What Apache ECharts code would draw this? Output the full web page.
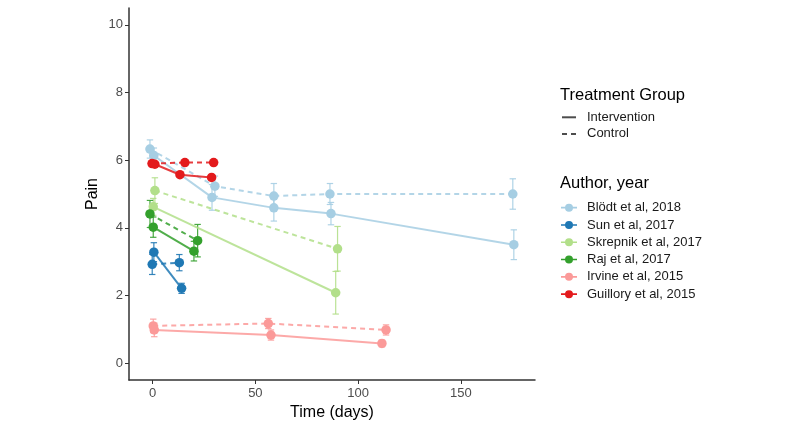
<!DOCTYPE html>
<html>
<head>
<meta charset="utf-8">
<script src="https://cdn.jsdelivr.net/npm/echarts@6/dist/echarts.min.js"></script>
<style>
html,body{margin:0;padding:0;background:#fff;}
#chart{width:800px;height:427px;}
</style>
</head>
<body>
<div id="chart"></div>
<script>
// ---- Data ----
const authors = ["Blödt et al, 2018", "Sun et al, 2017", "Skrepnik et al, 2017", "Raj et al, 2017", "Irvine et al, 2015", "Guillory et al, 2015"];
const authorColors = ["#A6CEE3", "#1F78B4", "#B2DF8A", "#33A02C", "#FB9A99", "#E31A1C"];
const groups = ["Intervention", "Control"];

// Intervention arms
const intDays = [
  [0.6, 28.9, 59.0, 86.8, 175.8],
  [0.6, 14.1],
  [0.3, 89.1],
  [0.3, 20.1],
  [0.8, 57.6, 111.6],
  [1.1, 13.3, 28.7]
];
const intPain = [
  [6.14, 4.90, 4.59, 4.42, 3.50],
  [3.28, 2.21],
  [4.62, 2.08],
  [4.02, 3.31],
  [0.98, 0.83, 0.58],
  [5.88, 5.57, 5.49]
];
const intErr = [
  [0.22, 0.38, 0.39, 0.33, 0.44],
  [0.28, 0.15],
  [0.25, 0.63],
  [0.30, 0.29],
  [0.20, 0.15, 0.10],
  [0.05, 0.05, 0.05]
];
// Control arms
const ctlDays = [
  [-1.3, 30.3, 59.0, 86.3, 175.3],
  [-0.2, 13.0],
  [1.1, 90.0],
  [-1.3, 21.9],
  [0.3, 56.3, 113.6],
  [-0.3, 15.7, 29.7]
];
const ctlPain = [
  [6.33, 5.23, 4.94, 5.00, 5.00],
  [2.92, 2.97],
  [5.10, 3.38],
  [4.41, 3.62],
  [1.10, 1.17, 0.98],
  [5.90, 5.93, 5.93]
];
const ctlErr = [
  [0.27, 0.30, 0.37, 0.31, 0.45],
  [0.30, 0.24],
  [0.38, 0.66],
  [0.40, 0.48],
  [0.20, 0.15, 0.15],
  [0.05, 0.05, 0.05]
];
const xTicks = [0, 50, 100, 150];
const yTicks = [0, 2, 4, 6, 8, 10];

// ---- Build chart ----
const FONT = "Liberation Sans, Arial, Helvetica, sans-serif";
const series = [];

function errSeries(name, color, days, vals, errs) {
  const data = days.map((d, i) => [d, vals[i] - errs[i], vals[i] + errs[i]]);
  return {
    name: name,
    type: 'custom',
    z: 2,
    data: data,
    encode: { x: 0, y: [1, 2] },
    renderItem: function (params, api) {
      const x = api.value(0);
      const lo = api.coord([x, api.value(1)]);
      const hi = api.coord([x, api.value(2)]);
      const w = 3.2;
      const st = { stroke: color, lineWidth: 1.2, opacity: 0.9 };
      return {
        type: 'group',
        children: [
          { type: 'line', shape: { x1: lo[0], y1: lo[1], x2: hi[0], y2: hi[1] }, style: st },
          { type: 'line', shape: { x1: lo[0] - w, y1: lo[1], x2: lo[0] + w, y2: lo[1] }, style: st },
          { type: 'line', shape: { x1: hi[0] - w, y1: hi[1], x2: hi[0] + w, y2: hi[1] }, style: st }
        ]
      };
    }
  };
}

function lineSeries(name, color, days, vals, dashed) {
  return {
    name: name,
    type: 'line',
    z: 3,
    data: days.map((d, i) => [d, vals[i]]),
    symbol: 'circle',
    symbolSize: 9.5,
    showSymbol: true,
    itemStyle: { color: color, opacity: 1 },
    lineStyle: { color: color, width: 2, type: dashed ? [5, 4] : 'solid', opacity: 0.85 },
    emphasis: { disabled: true },
    animation: false
  };
}

authors.forEach((a, k) => {
  series.push(errSeries(a, authorColors[k], ctlDays[k], ctlPain[k], ctlErr[k]));
  series.push(errSeries(a, authorColors[k], intDays[k], intPain[k], intErr[k]));
});
authors.forEach((a, k) => {
  series.push(lineSeries(a, authorColors[k], ctlDays[k], ctlPain[k], true));
  series.push(lineSeries(a, authorColors[k], intDays[k], intPain[k], false));
});
// dummy series for the treatment group legend
groups.forEach(g => series.push({ name: g, type: 'line', data: [], itemStyle: { color: '#4d4d4d' }, lineStyle: { color: '#4d4d4d' } }));

const lineIcon = 'path://M0,0 L14,0 L14,2 L0,2 Z';
const dashIcon = 'path://M0,0 L5,0 L5,2 L0,2 Z M9,0 L14,0 L14,2 L9,2 Z';
const ptIcon = 'path://M0,4.2 L16,4.2 L16,5.8 L0,5.8 Z M12,5 A4,4 0 1,1 4,5 A4,4 0 1,1 12,5 Z';

const option = {
  backgroundColor: '#ffffff',
  animation: false,
  textStyle: { fontFamily: FONT },
  title: [
    { text: 'Treatment Group', left: 560, top: 87, padding: 0, textStyle: { fontFamily: FONT, fontSize: 16.5, fontWeight: 'normal', color: '#000' } },
    { text: 'Author, year', left: 560, top: 175, padding: 0, textStyle: { fontFamily: FONT, fontSize: 16.5, fontWeight: 'normal', color: '#000' } }
  ],
  legend: [
    {
      orient: 'vertical', left: 562, top: 109, padding: 0, itemGap: 0,
      itemWidth: 14, itemHeight: 2, selectedMode: false,
      data: [ { name: groups[0], icon: lineIcon }, { name: groups[1], icon: dashIcon } ],
      textStyle: { fontFamily: FONT, fontSize: 13, color: '#1a1a1a', lineHeight: 16.6, padding: [0, 0, 0, 6] }
    },
    {
      orient: 'vertical', left: 561, top: 199, padding: 0, itemGap: 0,
      itemWidth: 16, itemHeight: 8, selectedMode: false,
      data: authors.map((a, k) => ({ name: a, icon: ptIcon, itemStyle: { color: authorColors[k] } })),
      textStyle: { fontFamily: FONT, fontSize: 13, color: '#1a1a1a', lineHeight: 17.3, padding: [0, 0, 0, 5] }
    }
  ],
  grid: { left: 129, right: 265, top: 8, bottom: 47, containLabel: false },
  xAxis: {
    type: 'value', min: -11.5, max: 186.1,
    name: 'Time (days)', nameLocation: 'middle', nameGap: 22,
    nameTextStyle: { fontFamily: FONT, fontSize: 16, color: '#000' },
    axisLine: { show: true, onZero: false, lineStyle: { color: '#333', width: 1.5 } },
    axisTick: { show: true, length: 4, lineStyle: { color: '#333' }, customValues: xTicks },
    axisLabel: { customValues: xTicks, fontFamily: FONT, fontSize: 13, color: '#4d4d4d', margin: 7 },
    splitLine: { show: false }
  },
  yAxis: {
    type: 'value', min: -0.5, max: 10.5,
    name: 'Pain', nameLocation: 'middle', nameGap: 28, nameMoveOverlap: false,
    nameTextStyle: { fontFamily: FONT, fontSize: 16, color: '#000' },
    axisLine: { show: true, onZero: false, lineStyle: { color: '#333', width: 1.5 } },
    axisTick: { show: true, length: 4, lineStyle: { color: '#333' }, customValues: yTicks },
    axisLabel: { customValues: yTicks, fontFamily: FONT, fontSize: 13, color: '#4d4d4d', margin: 6 },
    splitLine: { show: false }
  },
  series: series
};

const chart = echarts.init(document.getElementById('chart'), null, { renderer: 'canvas' });
chart.setOption(option);
</script>
</body>
</html>
